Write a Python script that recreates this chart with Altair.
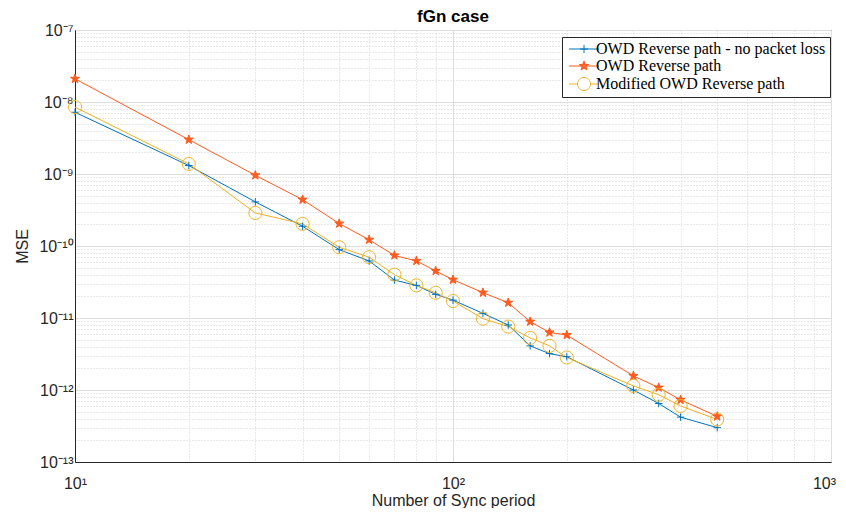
import math
import altair as alt
import pandas as pd

# ---------------- data ----------------
x_vals = [10, 20, 30, 40, 50, 60, 70, 80, 90, 100, 120, 140, 160, 180, 200, 300, 350, 400, 500]
blue_vals = [7.2e-9, 1.31e-9, 4.1e-10, 1.88e-10, 8.9e-11, 6.2e-11, 3.36e-11, 2.84e-11, 2.13e-11,
             1.77e-11, 1.16e-11, 8.0e-12, 4.1e-12, 3.2e-12, 2.9e-12, 1.0e-12, 6.5e-13, 4.2e-13, 3.0e-13]
red_vals = [2.1e-8, 3.0e-9, 9.6e-10, 4.4e-10, 2.05e-10, 1.22e-10, 7.4e-11, 6.2e-11, 4.5e-11,
            3.4e-11, 2.25e-11, 1.63e-11, 8.9e-12, 6.3e-12, 5.8e-12, 1.57e-12, 1.08e-12, 7.3e-13, 4.3e-13]
yellow_vals = [8.5e-9, 1.38e-9, 2.88e-10, 2.03e-10, 9.6e-11, 7.0e-11, 4.0e-11, 2.84e-11, 2.24e-11,
               1.72e-11, 9.8e-12, 7.6e-12, 5.3e-12, 4.1e-12, 2.83e-12, 1.14e-12, 8.6e-13, 6.0e-13, 3.9e-13]
series_names = ["OWD Reverse path - no packet loss", "OWD Reverse path", "Modified OWD Reverse path"]
colors = ["#0072BD", "#FF5A1F", "#EDB120"]

x_major = [10, 100, 1000]
y_major = [1e-13, 1e-12, 1e-11, 1e-10, 1e-9, 1e-8, 1e-7]
x_minor = [m * d for d in [10, 100] for m in range(2, 10)]
y_minor = [m * d for d in [1e-13, 1e-12, 1e-11, 1e-10, 1e-9, 1e-8] for m in range(2, 10)]

rows = []
for name, vals in zip(series_names, [blue_vals, red_vals, yellow_vals]):
    for xv, yv in zip(x_vals, vals):
        rows.append({"series": name, "x": xv, "y": yv})
df = pd.DataFrame(rows)

# ---------------- helpers ----------------
SUP = {"-": "\u207b", "0": "\u2070", "1": "\u00b9", "2": "\u00b2", "3": "\u00b3", "4": "\u2074",
       "5": "\u2075", "6": "\u2076", "7": "\u2077", "8": "\u2078", "9": "\u2079"}


def sup(n):
    return "".join(SUP[c] for c in str(n))


def label_expr(exps):
    parts = []
    for e in exps:
        parts.append(f"abs(log(datum.value)/LN10 - ({e})) < 0.01 ? '10{sup(e)}' : ")
    return "".join(parts) + "''"


major_test = "abs(log(datum.value)/LN10 - round(log(datum.value)/LN10)) < 0.001"


def star_path(r_out, r_in, cx=0.0):
    pts = []
    for i in range(10):
        ang = -math.pi / 2 + i * math.pi / 5
        r = r_out if i % 2 == 0 else r_in
        pts.append((cx + r * math.cos(ang), r * math.sin(ang)))
    return "M" + "L".join(f"{px:.3f},{py:.3f}" for px, py in pts) + "Z"


def circle_path(r, cx=0.0):
    return (f"M{cx + r},0A{r},{r} 0 1,1 {cx - r},0A{r},{r} 0 1,1 {cx + r},0Z")


plus_marker = "M-1,0H1M0,-1V1"
star_marker = star_path(1, 0.4)
circle_marker = circle_path(1)

# legend symbols: line segment + marker (star drawn with nested outlines to look solid)
LC = 2.0
leg_line = "M-1,0H5"
leg_plus = leg_line + f"M{LC - 0.8},0H{LC + 0.8}M{LC},-0.8V0.8"
leg_star = leg_line + star_path(1.0, 0.4, LC) + star_path(0.7, 0.28, LC) + star_path(0.4, 0.16, LC)
leg_circle = "M-1,0H0.7M3.3,0H5" + circle_path(1.3, LC)

grid_dash = {"condition": {"test": major_test, "value": []}, "value": [1, 2]}
grid_color = {"condition": {"test": major_test, "value": "#dedede"}, "value": "#d2d2d2"}

x_enc = alt.X("x:Q", scale=alt.Scale(type="log", domain=[10, 1000], nice=False),
              axis=alt.Axis(values=x_major + x_minor, labelExpr=label_expr([1, 2, 3]),
                            title="Number of Sync period", ticks=False, labelOverlap=False,
                            gridDash=grid_dash, gridColor=grid_color, labelPadding=13,
                            titlePadding=1, labelFlush=False,
                            labelOffset={"condition": {"test": "datum.value > 900", "value": -7},
                                         "value": 0}))
y_enc = alt.Y("y:Q", scale=alt.Scale(type="log", domain=[1e-13, 1e-7], nice=False),
              axis=alt.Axis(values=y_major + y_minor, labelExpr=label_expr(range(-13, -6)),
                            title="MSE", ticks=False, labelOverlap=False,
                            gridDash=grid_dash, gridColor=grid_color, labelPadding=2,
                            titlePadding=8, labelFlush=False))

base = alt.Chart(df)

# the line colour scale lists the series in a different order so its (hidden) legend
# is not merged with the visible one
lines = base.mark_line(strokeWidth=1, clip=True).encode(
    x=x_enc, y=y_enc,
    color=alt.Color("series:N", scale=alt.Scale(domain=series_names[::-1], range=colors[::-1]),
                    legend=None),
)

marker_specs = [
    (series_names[0], plus_marker, 56, colors[0], "transparent"),
    (series_names[1], star_marker, 90, colors[1], colors[1]),
    (series_names[2], circle_marker, 169, colors[2], "transparent"),
]
marker_layers = []
for name, shp, sz, col, fill in marker_specs:
    marker_layers.append(
        base.transform_filter(alt.datum.series == name).mark_point(
            shape=shp, size=sz, stroke=col, fill=fill, opacity=1, strokeWidth=1, filled=False
        ).encode(x="x:Q", y="y:Q")
    )

legend_layer = base.mark_point(opacity=0).encode(
    x="x:Q", y="y:Q",
    stroke=alt.Stroke("series:N", scale=alt.Scale(domain=series_names, range=colors),
                      legend=alt.Legend(title=None, orient="none", legendX=487, legendY=7,
                                        fillColor="white", strokeColor="#262626", padding=4,
                                        labelFont="Liberation Serif", labelFontSize=16,
                                        labelColor="#000000", labelLimit=400, symbolSize=100,
                                        symbolStrokeWidth=1, labelOffset=14, rowPadding=1,
                                        cornerRadius=0)),
    shape=alt.Shape("series:N", scale=alt.Scale(domain=series_names,
                                                range=[leg_plus, leg_star, leg_circle])),
)

chart = alt.layer(lines, *marker_layers, legend_layer).properties(
    width=756, height=432,
    padding={"left": 6, "top": 0, "right": 0, "bottom": 0},
    title=alt.TitleParams("fGn case", fontSize=17, fontWeight="bold", font="Liberation Sans",
                          color="#000000", offset=-4, anchor="middle"),
).configure_view(stroke="#262626", strokeWidth=1).configure_axis(
    labelFont="Liberation Sans", labelFontSize=16, labelColor="#262626",
    titleFont="Liberation Sans", titleFontSize=16, titleFontWeight="normal", titleColor="#262626",
    domainColor="#262626", gridWidth=1,
)

chart.save("out.html", embed_options={"renderer": "svg", "actions": False})
